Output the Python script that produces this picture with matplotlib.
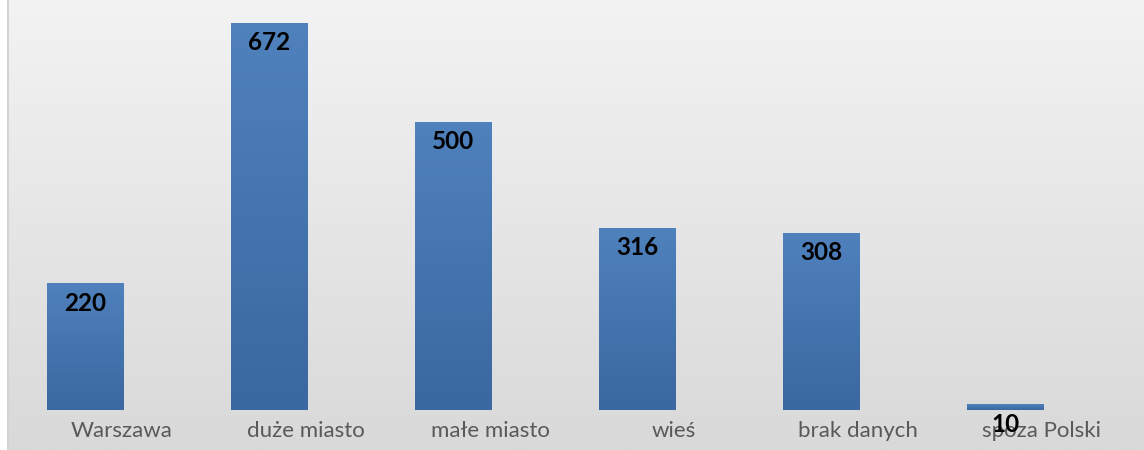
import numpy as np
import matplotlib.pyplot as plt
from matplotlib.colors import LinearSegmentedColormap

kategorie = ["Warszawa", "duże miasto", "małe miasto", "wieś", "brak danych", "spoza Polski"]
liczby = [220, 672, 500, 316, 308, 10]

plt.rcParams['font.family'] = ['Lato', 'DejaVu Sans']

fig = plt.figure(figsize=(11.44, 4.5), dpi=100)

# tło z gradientem
bg = fig.add_axes([8 / 1144, 0, 1 - 8 / 1144, 1])
bg_cmap = LinearSegmentedColormap.from_list("bg", ["#f3f3f3", "#d9d9d9"])
bg.imshow(np.linspace(0, 1, 256).reshape(-1, 1), aspect="auto", cmap=bg_cmap,
          extent=[0, 1, 0, 1], origin="upper")
bg.axis("off")
fig.add_artist(plt.Line2D([7.5 / 1144, 7.5 / 1144], [0, 1], color="#d4d4d4", lw=1.5))

ax = fig.add_axes([30 / 1144, 40 / 450, 1104 / 1144, 403 / 450])
ax.patch.set_alpha(0)
x = np.arange(len(kategorie))
bars = ax.bar(x - 0.2, liczby, width=0.415, color="#4a7ab5")

bar_cmap = LinearSegmentedColormap.from_list("bar", ["#4f81bd", "#3a68a0"])
for b in bars:
    x0, y0, w, h = b.get_x(), b.get_y(), b.get_width(), b.get_height()
    im = ax.imshow(np.linspace(0, 1, 64).reshape(-1, 1), aspect="auto", cmap=bar_cmap,
                   extent=[x0, x0 + w, y0, y0 + h], origin="upper", zorder=2)
    im.set_clip_path(b)

# etykiety wartości wewnątrz słupków
for b, v in zip(bars, liczby):
    ax.annotate(str(v), (b.get_x() + b.get_width() / 2, v), xytext=(0, -6),
                textcoords="offset points", ha="center", va="top",
                fontsize=17.5, fontweight="bold", color="black", zorder=5)

ax.set_xlim(-0.5, len(kategorie) - 0.5)
ax.set_ylim(0, 700)
ax.set_xticks(x)
ax.set_xticklabels(kategorie, fontsize=16, color="#595959")
ax.tick_params(axis="x", length=0, pad=8)
ax.set_yticks([])
for s in ax.spines.values():
    s.set_visible(False)

fig.savefig("out.png", dpi=100)
